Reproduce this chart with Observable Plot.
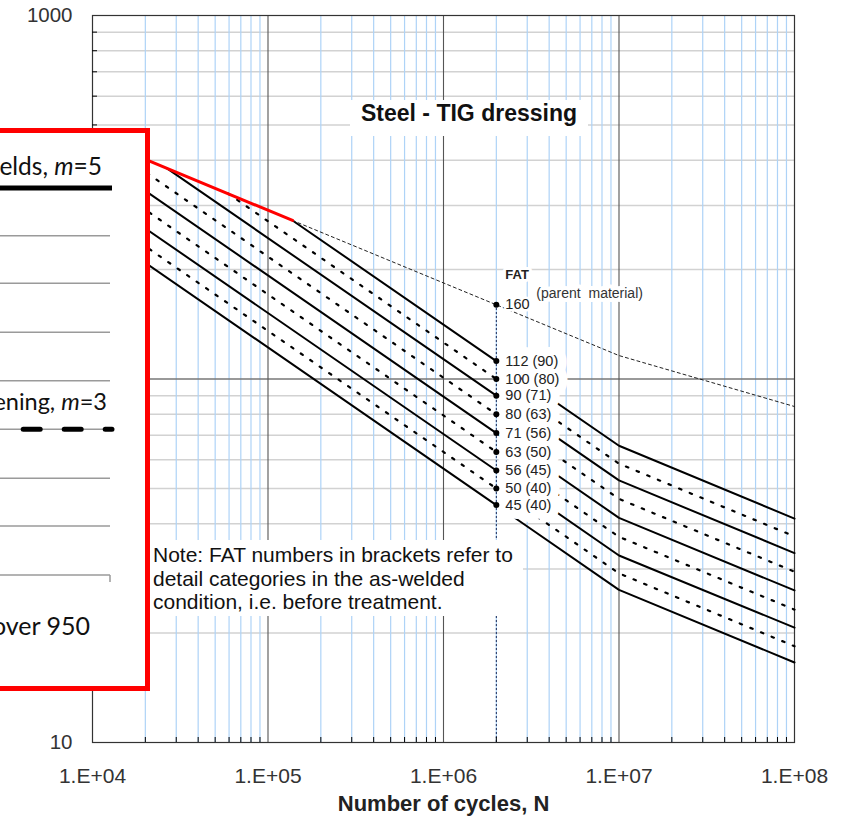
<!DOCTYPE html>
<html>
<head>
<meta charset="utf-8">
<script src="https://cdn.jsdelivr.net/npm/d3@7"></script>
<script src="https://cdn.jsdelivr.net/npm/@observablehq/plot@0.6"></script>
<style>
  html, body { margin: 0; padding: 0; background: #fff; }
  #wrap { position: relative; width: 854px; height: 824px; overflow: hidden; }
  #wrap svg { position: absolute; left: 0; top: 0; }
  .title { position: absolute; left: 350px; top: 100px; width: 238px; height: 36px; line-height: 36px;
           background: #fff; text-align: center; font: bold 23px "Liberation Sans", Arial, sans-serif; color: #111; }
  .note { position: absolute; left: 150px; top: 540px; width: 373px; height: 76px; box-sizing: border-box;
          padding: 3px 0 0 3px; background: #fff; font: 21px "Liberation Sans", Arial, sans-serif;
          line-height: 23.5px; color: #111; white-space: nowrap; }
</style>
</head>
<body>
<div id="wrap"></div>
<script>
// ---- data ----
const xTicks = [1e4, 1e5, 1e6, 1e7, 1e8];
const yDomain = [10, 1000];
const yLabelTicks = [10, 1000];          // "100" is hidden behind the overlay box
const yMajor = [100];
const minorMult = [2, 3, 4, 5, 6, 7, 8, 9];
const xDecades = [1e4, 1e5, 1e6, 1e7];
const yDecades = [10, 100];

const refN = 2e6;                       // reference cycles for FAT
const parentFAT = 160;
const parentN = [1e4, 1.38e5, 2e6, 1e7, 1e8];
const parentS = [462, 273, 160, 116, 84];

const fatClasses = [112, 100, 90, 80, 71, 63, 56, 50, 45];
const asWelded   = [90, 80, 71, 63, 56, 50, 45, 40, 40];
const startN     = [1.38e5, 5.9e4, 2.67e4, 1.1e4, 1e4, 1e4, 1e4, 1e4, 1e4];
const startS     = [273, 324, 379, 453, 415, 368, 327, 292, 263];
const sAt1e7     = [65.5, 58.5, 52.6, 46.8, 41.5, 36.8, 32.7, 29.2, 26.3];
const sAt1e8     = [41.3, 36.9, 33.2, 29.5, 26.2, 23.2, 20.7, 18.4, 16.6];

// ---- tables built from the arrays ----
const minorX = xDecades.flatMap(d => minorMult.map(m => m * d));
const minorY = yDecades.flatMap(d => minorMult.map(m => m * d));
const majorX = xTicks.slice(1, -1);

const curveRows = fatClasses.flatMap((f, i) => [
  {fat: f, i, N: startN[i], S: startS[i]},
  {fat: f, i, N: refN, S: f},
  {fat: f, i, N: 1e7, S: sAt1e7[i]},
  {fat: f, i, N: 1e8, S: sAt1e8[i]}
]);
const solidRows = curveRows.filter(d => d.i % 2 === 0);
const dottedRows = curveRows.filter(d => d.i % 2 === 1);

const parentRows = parentN.map((N, i) => ({N, S: parentS[i]}));
const redRows = parentRows.slice(0, 2);
const parentDashRows = parentRows.slice(1);

const labelRows = fatClasses.map((f, i) => ({N: refN, S: f, text: `${f} (${asWelded[i]})`}));
const parentRow = [{N: refN, S: parentFAT, text: String(parentFAT)}];
const dotRows = [{N: refN, S: parentFAT}, ...fatClasses.map(f => ({N: refN, S: f}))];

const FONT = "Liberation Sans, Arial, sans-serif";
const labelOpts = {x: "N", y: "S", text: "text", dx: 9, textAnchor: "start", fontSize: 14.5};

const chart = Plot.plot({
  width: 854,
  height: 824,
  marginLeft: 92,
  marginRight: 60,
  marginTop: 15,
  marginBottom: 82,
  x: {type: "log", domain: [xTicks[0], xTicks[xTicks.length - 1]], label: null},
  y: {type: "log", domain: yDomain, label: null},
  style: {fontFamily: FONT, background: "white", color: "#333", overflow: "visible"},
  marks: [
    Plot.gridY(minorY, {stroke: "#d2d2d2", strokeOpacity: 1, strokeWidth: 1.5}),
    Plot.gridX(minorX, {stroke: "#aed3f7", strokeOpacity: 1, strokeWidth: 1.2}),
    Plot.gridY(yMajor, {stroke: "#777", strokeOpacity: 1, strokeWidth: 1.3}),
    Plot.gridX(majorX, {stroke: "#555", strokeOpacity: 1, strokeWidth: 1.1}),
    Plot.frame({stroke: "#333", strokeWidth: 1.2}),
    Plot.line(solidRows, {x: "N", y: "S", z: "fat", stroke: "#000", strokeWidth: 2}),
    Plot.line(dottedRows, {x: "N", y: "S", z: "fat", stroke: "#000", strokeWidth: 2.2, strokeDasharray: "2.5,9"}),
    Plot.line(parentDashRows, {x: "N", y: "S", stroke: "#222", strokeWidth: 1, strokeDasharray: "3,3"}),
    Plot.line(redRows, {x: "N", y: "S", stroke: "#ff0000", strokeWidth: 3}),
    // white backgrounds (halos) first, then the texts themselves
    Plot.text(labelRows, {...labelOpts, fill: "white", stroke: "white", strokeWidth: 18}),
    Plot.text(parentRow, {...labelOpts, fill: "white", stroke: "white", strokeWidth: 5}),
    Plot.text(labelRows, {...labelOpts, fill: "#222"}),
    Plot.text(parentRow, {...labelOpts, fill: "#222"}),
    Plot.text(parentRow, {x: "N", y: "S", text: () => "FAT", dx: 9, dy: -30, textAnchor: "start",
      fontSize: 13, fontWeight: "bold", fill: "#222", stroke: "white", strokeWidth: 6}),
    Plot.text(parentRow, {x: "N", y: "S", text: () => "(parent\u00a0 material)", dx: 40, dy: -11,
      textAnchor: "start", fontSize: 14, fill: "#333", stroke: "white", strokeWidth: 8}),
    Plot.ruleX([{N: refN}], {x: "N", y1: yDomain[0], y2: parentFAT, stroke: "#1c2a55", strokeWidth: 1,
      strokeDasharray: "2,2"}),
    Plot.dot(dotRows, {x: "N", y: "S", r: 3, fill: "#000"}),
    Plot.axisX(minorX, {anchor: "bottom", tickSize: 5, dy: -5, tickFormat: () => "", stroke: "#000", label: null}),
    Plot.axisY(minorY, {anchor: "left", tickSize: 5, dx: 5, tickFormat: () => "", stroke: "#000", label: null}),
    Plot.axisX(xTicks, {anchor: "bottom", tickSize: 0, tickPadding: 26, fontSize: 21, fill: "#333",
      tickFormat: d => "1.E+0" + Math.round(Math.log10(d)), label: null}),
    Plot.axisY(yLabelTicks, {anchor: "left", tickSize: 0, tickPadding: 20, fontSize: 20.5, fill: "#333",
      tickFormat: d => String(d), label: null}),
    Plot.text(["Number of cycles, N"], {frameAnchor: "bottom", dy: 68, text: d => d, fontSize: 22,
      fontWeight: "bold", fill: "#222"})
  ]
});

const wrap = document.getElementById("wrap");
wrap.appendChild(chart);

// Title and note (white-backed annotations)
const title = document.createElement("div");
title.className = "title";
title.textContent = "Steel - TIG dressing";
wrap.appendChild(title);

const note = document.createElement("div");
note.className = "note";
note.innerHTML = "Note: FAT numbers in brackets refer to<br>detail categories in the as-welded<br>condition, i.e. before treatment.";
wrap.appendChild(note);

// Red-bordered overlay box covering the left part
const ns = "http://www.w3.org/2000/svg";
const ov = document.createElementNS(ns, "svg");
ov.setAttribute("width", 854);
ov.setAttribute("height", 824);
ov.style.position = "absolute"; ov.style.left = "0"; ov.style.top = "0";
function el(tag, attrs, text) {
  const e = document.createElementNS(ns, tag);
  for (const k in attrs) e.setAttribute(k, attrs[k]);
  if (text != null) e.textContent = text;
  ov.appendChild(e);
  return e;
}
el("rect", {x: -10, y: 130.5, width: 157.5, height: 558, fill: "#fff", stroke: "#ff0000", "stroke-width": 5});
const grayYs = [235.7, 283.3, 332.3, 380.7, 478.3, 526, 575];
grayYs.forEach(y => el("line", {x1: 0, x2: 110, y1: y, y2: y, stroke: "#9a9a9a", "stroke-width": 1.5}));
el("line", {x1: 110, x2: 110, y1: 575, y2: 582, stroke: "#9a9a9a", "stroke-width": 1.5});
el("line", {x1: 0, x2: 112, y1: 188, y2: 188, stroke: "#000", "stroke-width": 5});
el("line", {x1: 0, x2: 112, y1: 429.3, y2: 429.3, stroke: "#9a9a9a", "stroke-width": 1.5});
el("line", {x1: 0, x2: 112, y1: 429.3, y2: 429.3, stroke: "#000", "stroke-width": 5,
  "stroke-dasharray": "17 24", "stroke-dashoffset": 17.8, "stroke-linecap": "round"});
const t1 = el("text", {x: 102, y: 175, "text-anchor": "end", "font-family": "Lato, sans-serif", "font-size": 24.5, fill: "#111"});
t1.appendChild(document.createTextNode("elds, "));
const m1 = document.createElementNS(ns, "tspan"); m1.setAttribute("font-style", "italic"); m1.textContent = "m"; t1.appendChild(m1);
t1.appendChild(document.createTextNode("=5"));
const t2 = el("text", {x: 107, y: 409.5, "text-anchor": "end", "font-family": "Lato, sans-serif", "font-size": 23.5, fill: "#111"});
t2.appendChild(document.createTextNode("ening, "));
const m2 = document.createElementNS(ns, "tspan"); m2.setAttribute("font-style", "italic"); m2.textContent = "m"; t2.appendChild(m2);
t2.appendChild(document.createTextNode("=3"));
el("text", {x: 90, y: 635, "text-anchor": "end", "font-family": "Lato, sans-serif", "font-size": 25, fill: "#111"}, "over 950");
wrap.appendChild(ov);
</script>
</body>
</html>
